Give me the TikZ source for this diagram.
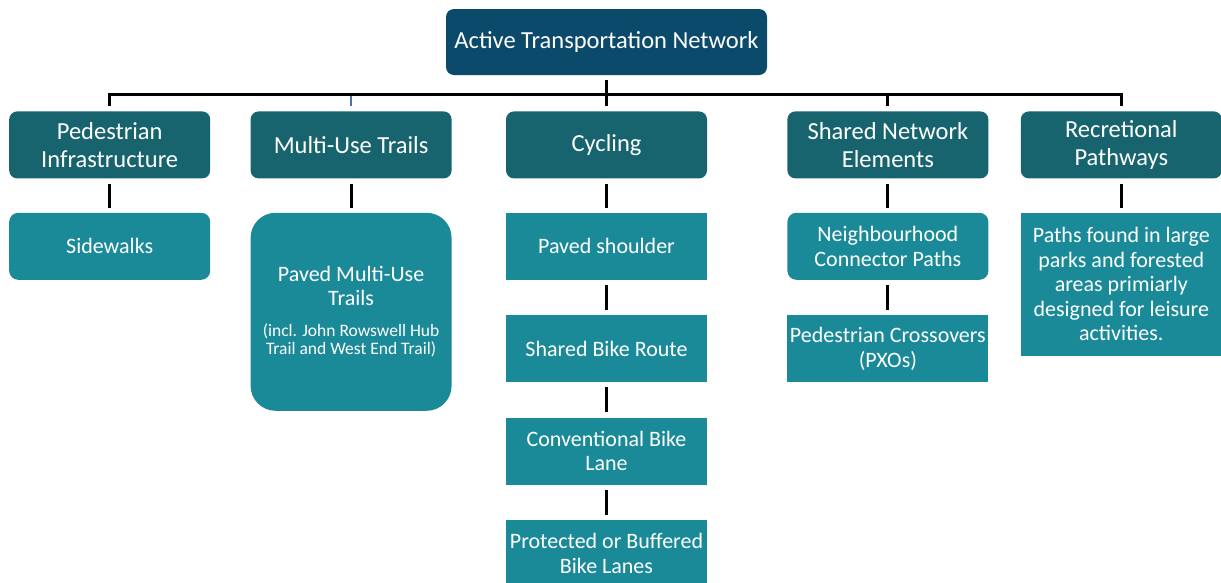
\documentclass[tikz,border=0pt]{standalone}
\usepackage{fontspec}
\setmainfont{Carlito}
\usetikzlibrary{positioning}
\definecolor{topblue}{HTML}{0B4A6B}
\definecolor{midteal}{HTML}{17646E}
\definecolor{leafteal}{HTML}{1B8A98}
\definecolor{stubblue}{HTML}{4F72A6}
\tikzstyle{Head} = [rectangle,rounded corners=8pt,fill=topblue,text=white,minimum width=321pt,minimum height=66pt,inner sep=0pt,align=center,font=\fontsize{24.5}{28.5}\selectfont]
\tikzstyle{Cat} = [Head,fill=midteal,minimum width=201pt,minimum height=67pt]
\tikzstyle{Leaf} = [Cat,sharp corners,fill=leafteal,font=\fontsize{22}{24.5}\selectfont]
\tikzstyle{Soft} = [Leaf,rounded corners=9pt]
\tikzstyle{link} = [line width=3pt,black,shorten <=5pt,shorten >=5pt]
\newcommand{\incl}{\fontsize{17.5}{18.5}\selectfont}

\begin{document}
\begin{tikzpicture}[x=1pt,y=1pt]
  \useasboundingbox (0,0) rectangle (1221,-582);

  \node [Head] at (606.5,-42) (top) {Active Transportation Network};

  \node [Cat,below=36pt of top] (cyc) {Cycling};
  \node [Cat,left=54pt of cyc] (mut) {Multi-Use Trails};
  \node [Cat,left=40pt of mut] (ped) {Pedestrian\\Infrastructure};
  \node [Cat,right=80pt of cyc] (shr) {Shared Network\\Elements};
  \node [Cat,right=32pt of shr] (rec) {Recretional\\Pathways};

  % tree from the top box
  \draw [link,shorten >=0pt] (top.south) -- ++(0,-19) coordinate (hub);
  \draw [link,shorten <=0pt] (hub) -| (ped);
  \draw [link,shorten <=0pt] (hub) -| (shr);
  \draw [link,shorten <=0pt] (hub) -| (rec);
  \draw [link] (top) -- (cyc);
  \draw [line width=2.5pt,stubblue,shorten <=2pt,shorten >=5pt] (hub -| mut) -- (mut);

  \node [Soft,below=34pt of ped] (swk) {Sidewalks};
  \node [Soft,rounded corners=25pt,minimum height=198pt,below=34pt of mut] (pmu)
    {Paved Multi-Use\\Trails\\[6pt]{\incl (incl. John Rowswell Hub}\\[-6pt]{\incl Trail and West End Trail)}};
  \draw [link] (ped) -- (swk);
  \draw [link] (mut) -- (pmu);

  \node [Leaf,below=34pt of cyc] (psh) {Paved shoulder};
  \node [Leaf,below=35pt of psh] (sbr) {Shared Bike Route};
  \node [Leaf,below=35pt of sbr] (cbl) {Conventional Bike\\Lane};
  \node [Leaf,below=35pt of cbl] (pbl) {Protected or Buffered\\Bike Lanes};
  \draw [link] (cyc) -- (psh);
  \draw [link] (psh) -- (sbr);
  \draw [link] (sbr) -- (cbl);
  \draw [link] (cbl) -- (pbl);

  \node [Soft,below=34pt of shr] (nca) {Neighbourhood\\Connector Paths};
  \node [Leaf,below=35pt of nca] (pxo) {Pedestrian Crossovers\\(PXOs)};
  \draw [link] (shr) -- (nca);
  \draw [link] (nca) -- (pxo);

  \node [Leaf,minimum height=143pt,below=34pt of rec] (pfl)
    {Paths found in large\\parks and forested\\areas primiarly\\designed for leisure\\activities.};
  \draw [link] (rec) -- (pfl);
\end{tikzpicture}
\end{document}
